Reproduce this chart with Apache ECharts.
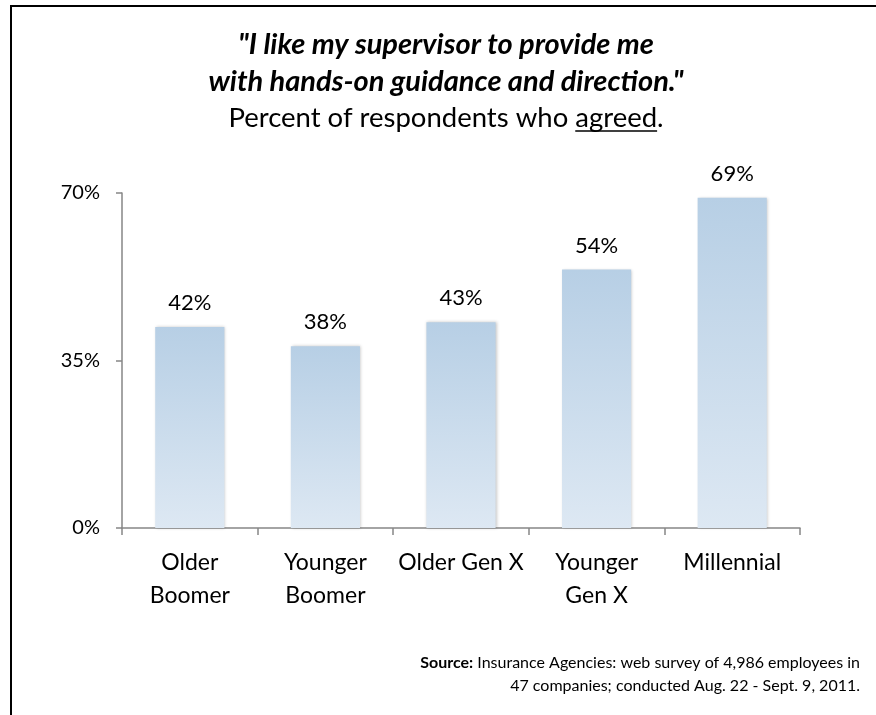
<!DOCTYPE html>
<html>
<head>
<meta charset="utf-8">
<script src="https://cdn.jsdelivr.net/npm/echarts@6/dist/echarts.min.js"></script>
<style>
html,body{margin:0;padding:0;background:#fff;}
#chart{width:876px;height:715px;}
</style>
</head>
<body>
<div id="chart"></div>
<script>
var categories = ['Older\nBoomer', 'Younger\nBoomer', 'Older Gen X', 'Younger\nGen X', 'Millennial'];
var values = [42, 38, 43, 54, 69];
var yTicks = [0, 35, 70];
var titleLine1 = '"I like my supervisor to provide me';
var titleLine2 = 'with hands-on guidance and direction."';
var subtitlePre = 'Percent of respondents who ';
var subtitleKey = 'agreed';
var subtitlePost = '.';
var sourceLabel = 'Source:';
var sourceLine1 = ' Insurance Agencies: web survey of 4,986 employees in';
var sourceLine2 = '47 companies; conducted Aug. 22 - Sept. 9, 2011.';

var FONT = 'Lato, "Open Sans", sans-serif';
var subFont = '27.5px ' + FONT;

function measure(text, font) {
  var c = document.createElement('canvas').getContext('2d');
  c.font = font;
  return c.measureText(text).width;
}
var wPre = measure(subtitlePre, subFont);
var wKey = measure(subtitleKey, subFont);
var wAll = measure(subtitlePre + subtitleKey + subtitlePost, subFont);
var cx = 446;
var ulStart = cx - wAll / 2 + wPre;

var chart = echarts.init(document.getElementById('chart'));
chart.setOption({
  animation: false,
  backgroundColor: '#fff',
  grid: { left: 122, right: 76, top: 193, bottom: 187, containLabel: false },
  xAxis: {
    type: 'category',
    data: categories,
    axisLine: { lineStyle: { color: '#868686', width: 1.5 } },
    axisTick: { show: true, length: 7, lineStyle: { color: '#868686', width: 1.5 } },
    axisLabel: { color: '#000', fontFamily: FONT, fontSize: 23, lineHeight: 33, margin: 18, interval: 0 }
  },
  yAxis: {
    type: 'value',
    min: yTicks[0], max: yTicks[yTicks.length - 1], interval: yTicks[1] - yTicks[0],
    axisLine: { show: true, lineStyle: { color: '#868686', width: 1.5 } },
    axisTick: { show: true, length: 6, lineStyle: { color: '#868686', width: 1.5 } },
    splitLine: { show: false },
    axisLabel: { color: '#000', fontFamily: FONT, fontSize: 20, margin: 22, formatter: '{value}%' }
  },
  series: [{
    type: 'bar',
    data: values,
    barWidth: '51%',
    itemStyle: {
      color: new echarts.graphic.LinearGradient(0, 0, 0, 1, [
        { offset: 0, color: '#b7cfe5' },
        { offset: 1, color: '#dde8f3' }
      ]),
      shadowColor: 'rgba(0,0,0,0.22)',
      shadowBlur: 3,
      shadowOffsetX: 1
    },
    label: {
      show: true, position: 'top', distance: 13,
      formatter: '{c}%', color: '#000', fontFamily: FONT, fontSize: 22
    }
  }],
  graphic: [
    { type: 'polyline', shape: { points: [[11, 715], [11, 6], [876, 6]] }, style: { stroke: '#000', lineWidth: 2, fill: null } },
    { type: 'text', x: cx, y: 45, style: { text: titleLine1, font: 'italic bold 29px ' + FONT, fill: '#000', align: 'center', verticalAlign: 'middle' } },
    { type: 'text', x: cx, y: 82, style: { text: titleLine2, font: 'italic bold 29px ' + FONT, fill: '#000', align: 'center', verticalAlign: 'middle' } },
    { type: 'text', x: cx, y: 118, style: { text: subtitlePre + subtitleKey + subtitlePost, font: subFont, fill: '#000', align: 'center', verticalAlign: 'middle' } },
    { type: 'line', shape: { x1: ulStart, y1: 131, x2: ulStart + wKey, y2: 131 }, style: { stroke: '#000', lineWidth: 1.5 } },
    { type: 'text', x: 860, y: 663, style: {
        text: '{b|' + sourceLabel + '}{n|' + sourceLine1 + '}',
        align: 'right', verticalAlign: 'middle',
        rich: { b: { fontFamily: FONT, fontWeight: 'bold', fontSize: 16, fill: '#000' }, n: { fontFamily: FONT, fontSize: 16, fill: '#000' } }
    } },
    { type: 'text', x: 860, y: 686, style: { text: sourceLine2, font: '16px ' + FONT, fill: '#000', align: 'right', verticalAlign: 'middle' } }
  ]
});
</script>
</body>
</html>
